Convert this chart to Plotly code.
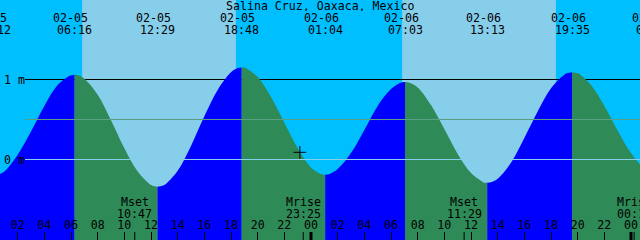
import pandas as pd
import plotly.graph_objects as go

# ---------------- data ----------------
title_text = "Salina Cruz, Oaxaca, Mexico"

# tide extremes (local time) and levels in metres
extreme_times = ["2025-02-05 00:12", "2025-02-05 06:16", "2025-02-05 12:29",
                 "2025-02-05 18:48", "2025-02-06 01:04", "2025-02-06 07:03",
                 "2025-02-06 13:13", "2025-02-06 19:35", "2025-02-07 01:43"]
extreme_levels = [-0.20, 1.06, -0.34, 1.15, -0.19, 0.97, -0.29, 1.09, -0.15]

# tide level read at every hour, starting 02-05 00:00
hourly_start = "2025-02-05 00:00"
hourly_levels = [-0.20, -0.15, 0.06, 0.35, 0.67, 0.93, 1.05, 1.01, 0.81, 0.49,
                 0.14, -0.15, -0.32, -0.32, -0.14, 0.17, 0.54, 0.87, 1.09, 1.15,
                 1.03, 0.78, 0.46, 0.14, -0.10, -0.19, -0.12, 0.08, 0.37, 0.67,
                 0.88, 0.97, 0.90, 0.68, 0.38, 0.07, -0.17, -0.29, -0.24, -0.04,
                 0.27, 0.60, 0.89, 1.06, 1.08, 0.93, 0.67, 0.36, 0.08, -0.11]

# extra readings on the flat shoulders next to each high / low
shoulder_times = ["2025-02-05 00:32", "2025-02-05 05:56", "2025-02-05 06:36",
                  "2025-02-05 12:09", "2025-02-05 12:49", "2025-02-05 18:28",
                  "2025-02-05 19:08", "2025-02-06 00:44", "2025-02-06 01:24",
                  "2025-02-06 06:43", "2025-02-06 07:23", "2025-02-06 12:53",
                  "2025-02-06 13:33", "2025-02-06 19:15", "2025-02-06 19:55"]
shoulder_levels = [-0.19, 1.05, 1.05, -0.33, -0.33, 1.14, 1.14, -0.18, -0.18,
                   0.96, 0.96, -0.28, -0.28, 1.08, 1.08]

sunrise_times = ["2025-02-05 06:50", "2025-02-06 06:50"]
sunset_times = ["2025-02-05 18:22", "2025-02-06 18:22"]

moon_names = ["Mset", "Mrise", "Mset", "Mrise"]
moon_times = ["2025-02-05 10:47", "2025-02-05 23:25", "2025-02-06 11:29", "2025-02-07 00:14"]

midnights = ["2025-02-06 00:00", "2025-02-07 00:00"]

now_time = "2025-02-05 23:10"
now_level = 0.09

level_lines = [1.0, 0.5, 0.0]
level_labels = ["1 m", "", "0 m"]

x_range = ["2025-02-05 00:40:30", "2025-02-07 00:40:30"]
y_range = [-1.00625, 1.99375]

# ---------------- styling ----------------
NIGHT = "#00BFFF"
DAY = "#87CEEB"
FLOOD = "#0000FF"
EBB = "#2E8B57"
FONT = dict(family="DejaVu Sans Mono", size=11.6, color="black")
W, H = 640, 240

fig = go.Figure()

# ---- tide fill, split at each extreme ----
pts = (list(zip(pd.date_range(hourly_start, periods=len(hourly_levels), freq="h"), hourly_levels))
       + list(zip(pd.to_datetime(extreme_times), extreme_levels))
       + list(zip(pd.to_datetime(shoulder_times), shoulder_levels)))
pts = sorted(pts)
lvl = dict(pts)
e_t = pd.to_datetime(extreme_times)
bounds = [pts[0][0]] + [t for t in e_t if pts[0][0] < t < pts[-1][0]] + [pts[-1][0]]

for a, b in zip(bounds[:-1], bounds[1:]):
    seg = [(t, v) for t, v in pts if a <= t <= b]
    xs = [t for t, _ in seg]
    ys = [v for _, v in seg]
    color = FLOOD if lvl[b] > lvl[a] else EBB
    fig.add_trace(go.Scatter(x=xs, y=[y_range[0]] * len(xs), mode="lines",
                             line=dict(width=0), hoverinfo="skip", showlegend=False))
    fig.add_trace(go.Scatter(x=xs, y=ys, mode="lines", fill="tonexty",
                             fillcolor=color, line=dict(width=0, shape="spline", smoothing=1),
                             hoverinfo="skip", showlegend=False))

# ---- current-time mark ----
fig.add_trace(go.Scatter(x=[now_time], y=[now_level], mode="markers",
                         marker=dict(symbol="cross-thin", size=9, color="black",
                                     line=dict(width=1, color="black")),
                         hoverinfo="skip", showlegend=False))

shapes = []
for r, s in zip(sunrise_times, sunset_times):
    shapes.append(dict(type="rect", xref="x", yref="paper", x0=r, x1=s, y0=0, y1=1,
                       fillcolor=DAY, line=dict(width=0), layer="below"))
line_colors = ["black", "#5A9E84", "#87CEEB"]
line_layers = ["below", "above", "above"]
for v, c, ly in zip(level_lines, line_colors, line_layers):
    shapes.append(dict(type="line", xref="paper", yref="y", x0=25 / W, x1=1, y0=v, y1=v,
                       line=dict(color=c, width=1), layer=ly))
for t in moon_times:
    shapes.append(dict(type="line", xref="x", yref="paper", x0=t, x1=t, y0=0, y1=8 / H,
                       line=dict(color="black", width=1), layer="above"))
for t in midnights:
    shapes.append(dict(type="line", xref="x", yref="paper", x0=t, x1=t, y0=0, y1=8 / H,
                       line=dict(color="black", width=3), layer="above"))

# position on the time axis as a fraction of the plot width (lets edge labels be clipped)
xr0, xr1 = pd.to_datetime(x_range)


def xfrac(t):
    return (pd.Timestamp(t) - xr0) / (xr1 - xr0)


annotations = []
for t in e_t:
    annotations.append(dict(x=xfrac(t), y=1 - 17.5 / H, xref="paper", yref="paper",
                            showarrow=False, text=t.strftime("%m-%d"), xanchor="center",
                            yanchor="middle", xshift=-4, height=11, font=FONT))
    annotations.append(dict(x=xfrac(t), y=1 - 29.2 / H, xref="paper", yref="paper",
                            showarrow=False, text=t.strftime("%H:%M"), xanchor="center",
                            yanchor="middle", height=11, font=FONT))
for n, t in zip(moon_names, pd.to_datetime(moon_times)):
    annotations.append(dict(x=xfrac(t), y=1 - 201.5 / H, xref="paper", yref="paper",
                            showarrow=False, text=n, xanchor="center", yanchor="middle",
                            height=11, font=FONT))
    annotations.append(dict(x=xfrac(t), y=1 - 213.5 / H, xref="paper", yref="paper",
                            showarrow=False, text=t.strftime("%H:%M"), xanchor="center",
                            yanchor="middle", height=11, font=FONT))
for v, lab in zip(level_lines, level_labels):
    if lab:
        annotations.append(dict(x=2 / W, y=v, xref="paper", yref="y", showarrow=False,
                                text=lab, xanchor="left", yanchor="middle", height=11,
                                font=FONT))
annotations.append(dict(x=0.5, y=1 - 5.8 / H, xref="paper", yref="paper", showarrow=False,
                        text=title_text, xanchor="center", yanchor="middle", height=11,
                        font=FONT))

fig.update_layout(
    width=W, height=H, margin=dict(l=0, r=0, t=0, b=0),
    plot_bgcolor=NIGHT, paper_bgcolor=NIGHT, showlegend=False,
    shapes=shapes, annotations=annotations,
    xaxis=dict(type="date", range=x_range, tick0=hourly_start, dtick=2 * 3600 * 1000,
               tickformat="%H", ticks="inside", ticklen=8, tickwidth=1, tickcolor="black",
               ticklabelposition="inside", tickfont=FONT, showgrid=False, zeroline=False,
               showline=False, fixedrange=True),
    yaxis=dict(range=y_range, showticklabels=False, ticks="", showgrid=False,
               zeroline=False, showline=False, fixedrange=True),
)

fig.write_html("out.html", config={"displayModeBar": False})
